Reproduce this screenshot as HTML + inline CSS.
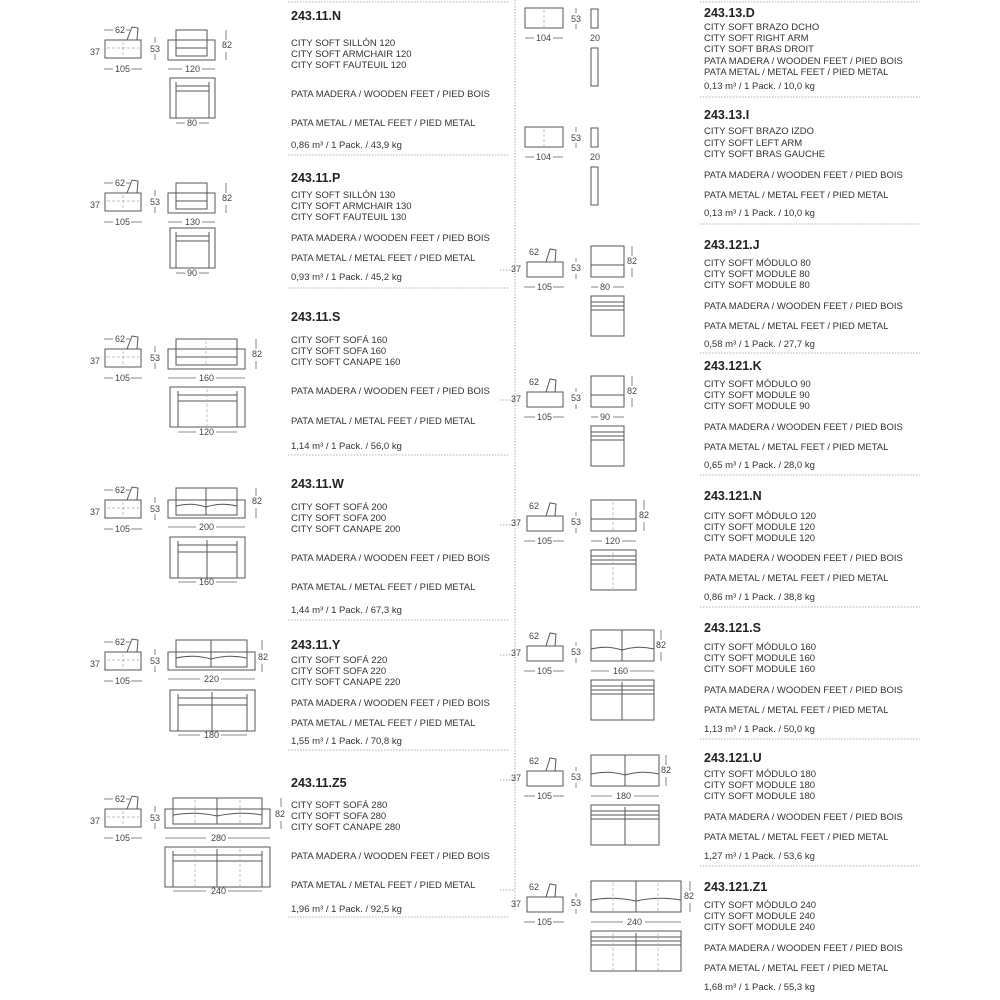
<!DOCTYPE html>
<html><head><meta charset="utf-8"><style>
html,body{margin:0;padding:0;background:#fff;}
svg{display:block}
text{font-family:"Liberation Sans",sans-serif;fill:#333;font-size:9.5px}
.t{font-weight:bold;font-size:12.5px;fill:#222}
.d{font-size:9px;fill:#444}
.s{fill:none;stroke:#555;stroke-width:1}
.l{stroke:#666;stroke-width:0.8}
.dl{stroke:#999;stroke-width:0.8;stroke-dasharray:1.5 1.5}
.ds{stroke:#aaa;stroke-width:0.7;stroke-dasharray:3 2;fill:none}
</style></head><body>
<svg width="1000" height="1000" viewBox="0 0 1000 1000">
<defs>
<g id="side">
<rect class="s" x="105" y="40" width="36" height="18"/>
<path class="s" d="M127 40 L132 27 L138 28 L137 40"/>
<line class="ds" x1="123" y1="42" x2="123" y2="56"/>
<line class="ds" x1="107" y1="48" x2="139" y2="48"/>
<text class="d" x="115" y="33">62</text>
<line class="l" x1="104" y1="30" x2="113" y2="30"/><line class="l" x1="126" y1="30" x2="130" y2="30"/>
<text class="d" x="90" y="55">37</text>
<text class="d" x="115" y="72">105</text>
<line class="l" x1="104" y1="69" x2="113" y2="69"/><line class="l" x1="131" y1="69" x2="142" y2="69"/>
<text class="d" x="150" y="52">53</text>
<line class="l" x1="155" y1="37" x2="155" y2="43"/><line class="l" x1="155" y1="54" x2="155" y2="60"/>
</g>
<g id="rside">
<rect class="s" x="527" y="262" width="36" height="15"/>
<path class="s" d="M546 262 L550 249 L556 250 L555 262"/>
<text class="d" x="529" y="255">62</text>
<text class="d" x="511" y="272">37</text>
<text class="d" x="537" y="290">105</text>
<line class="l" x1="524" y1="287" x2="535" y2="287"/><line class="l" x1="553" y1="287" x2="564" y2="287"/>
<text class="d" x="571" y="271">53</text>
<line class="l" x1="576" y1="258" x2="576" y2="262"/><line class="l" x1="576" y1="274" x2="576" y2="279"/>
</g>
</defs>

<!-- separators -->
<line class="dl" x1="515" y1="0" x2="515" y2="910"/>
<g class="dl">
<line x1="288" y1="2" x2="510" y2="2"/><line x1="288" y1="155" x2="510" y2="155"/>
<line x1="288" y1="288" x2="510" y2="288"/><line x1="288" y1="455" x2="510" y2="455"/>
<line x1="288" y1="620" x2="510" y2="620"/><line x1="288" y1="750" x2="510" y2="750"/>
<line x1="288" y1="917" x2="510" y2="917"/>
<line x1="700" y1="2" x2="920" y2="2"/><line x1="700" y1="97" x2="920" y2="97"/>
<line x1="700" y1="224" x2="920" y2="224"/><line x1="700" y1="353" x2="920" y2="353"/>
<line x1="700" y1="475" x2="920" y2="475"/><line x1="700" y1="607" x2="920" y2="607"/>
<line x1="700" y1="739" x2="920" y2="739"/><line x1="700" y1="866" x2="920" y2="866"/>
<line x1="500" y1="890" x2="515" y2="890"/>
</g>
<line class="dl" x1="500" y1="270" x2="515" y2="270"/>
<line class="dl" x1="500" y1="400" x2="515" y2="400"/>
<line class="dl" x1="500" y1="525" x2="515" y2="525"/>
<line class="dl" x1="500" y1="655" x2="515" y2="655"/>
<line class="dl" x1="500" y1="780" x2="515" y2="780"/>

<!-- LEFT DRAWINGS -->
<!-- N -->
<use href="#side"/>
<g>
<rect class="s" x="168" y="40" width="47" height="20"/><rect class="s" x="176" y="30" width="31" height="26"/>
<line class="s" x1="176" y1="48" x2="207" y2="48"/>
<text class="d" x="222" y="48">82</text><line class="l" x1="226" y1="30" x2="226" y2="40"/><line class="l" x1="226" y1="52" x2="226" y2="60"/>
<text class="d" x="185" y="72">120</text><line class="l" x1="168" y1="69" x2="182" y2="69"/><line class="l" x1="202" y1="69" x2="215" y2="69"/>
<rect class="s" x="170" y="78" width="45" height="40"/><line class="s" x1="176" y1="86" x2="209" y2="86"/><line class="s" x1="176" y1="91" x2="209" y2="91"/>
<line class="s" x1="176" y1="82" x2="176" y2="118"/><line class="s" x1="209" y1="82" x2="209" y2="118"/>
<text class="d" x="187" y="126">80</text><line class="l" x1="176" y1="123" x2="185" y2="123"/><line class="l" x1="199" y1="123" x2="209" y2="123"/>
</g>
<!-- P -->
<g transform="translate(0,153)">
<use href="#side"/>
<rect class="s" x="168" y="40" width="47" height="20"/><rect class="s" x="176" y="30" width="31" height="26"/>
<line class="s" x1="176" y1="48" x2="207" y2="48"/>
<text class="d" x="222" y="48">82</text><line class="l" x1="226" y1="30" x2="226" y2="40"/><line class="l" x1="226" y1="52" x2="226" y2="60"/>
<text class="d" x="185" y="72">130</text><line class="l" x1="168" y1="69" x2="182" y2="69"/><line class="l" x1="202" y1="69" x2="215" y2="69"/>
<rect class="s" x="170" y="75" width="45" height="40"/><line class="s" x1="176" y1="83" x2="209" y2="83"/><line class="s" x1="176" y1="88" x2="209" y2="88"/>
<line class="s" x1="176" y1="79" x2="176" y2="115"/><line class="s" x1="209" y1="79" x2="209" y2="115"/>
<text class="d" x="187" y="123">90</text><line class="l" x1="176" y1="120" x2="185" y2="120"/><line class="l" x1="199" y1="120" x2="209" y2="120"/>
</g>
<!-- S -->
<g transform="translate(0,309)">
<use href="#side"/>
<rect class="s" x="168" y="40" width="77" height="20"/><rect class="s" x="176" y="30" width="61" height="26"/>
<line class="s" x1="176" y1="48" x2="237" y2="48"/><line class="ds" x1="206" y1="32" x2="206" y2="56"/>
<text class="d" x="252" y="48">82</text><line class="l" x1="256" y1="30" x2="256" y2="40"/><line class="l" x1="256" y1="52" x2="256" y2="60"/>
<text class="d" x="199" y="72">160</text><line class="l" x1="168" y1="69" x2="196" y2="69"/><line class="l" x1="216" y1="69" x2="245" y2="69"/>
<rect class="s" x="170" y="78" width="75" height="40"/><line class="s" x1="178" y1="86" x2="237" y2="86"/><line class="s" x1="178" y1="92" x2="237" y2="92"/>
<line class="s" x1="178" y1="82" x2="178" y2="118"/><line class="s" x1="237" y1="82" x2="237" y2="118"/><line class="ds" x1="207" y1="80" x2="207" y2="118"/>
<text class="d" x="199" y="126">120</text><line class="l" x1="178" y1="123" x2="196" y2="123"/><line class="l" x1="216" y1="123" x2="237" y2="123"/>
</g>
<!-- W -->
<g transform="translate(0,460)">
<use href="#side"/>
<rect class="s" x="168" y="40" width="77" height="18"/><rect class="s" x="176" y="28" width="61" height="27"/>
<path class="s" d="M176 46 Q191 42 206 47 Q221 42 237 46"/><line class="s" x1="206" y1="28" x2="206" y2="55"/>
<text class="d" x="252" y="44">82</text><line class="l" x1="256" y1="28" x2="256" y2="36"/><line class="l" x1="256" y1="48" x2="256" y2="58"/>
<text class="d" x="199" y="70">200</text><line class="l" x1="168" y1="67" x2="196" y2="67"/><line class="l" x1="216" y1="67" x2="245" y2="67"/>
<rect class="s" x="170" y="77" width="75" height="41"/><line class="s" x1="178" y1="85" x2="237" y2="85"/><line class="s" x1="178" y1="92" x2="237" y2="92"/>
<line class="s" x1="178" y1="81" x2="178" y2="118"/><line class="s" x1="237" y1="81" x2="237" y2="118"/><line class="s" x1="207" y1="80" x2="207" y2="118"/>
<text class="d" x="199" y="125">160</text><line class="l" x1="178" y1="122" x2="196" y2="122"/><line class="l" x1="216" y1="122" x2="237" y2="122"/>
</g>
<!-- Y -->
<g transform="translate(0,612)">
<use href="#side"/>
<rect class="s" x="168" y="40" width="87" height="18"/><rect class="s" x="176" y="28" width="71" height="27"/>
<path class="s" d="M176 46 Q194 42 211 47 Q229 42 247 46"/><line class="s" x1="211" y1="28" x2="211" y2="55"/>
<text class="d" x="258" y="48">82</text><line class="l" x1="262" y1="28" x2="262" y2="38"/><line class="l" x1="262" y1="52" x2="262" y2="60"/>
<text class="d" x="204" y="70">220</text><line class="l" x1="168" y1="67" x2="200" y2="67"/><line class="l" x1="221" y1="67" x2="255" y2="67"/>
<rect class="s" x="170" y="78" width="85" height="41"/><line class="s" x1="178" y1="86" x2="247" y2="86"/><line class="s" x1="178" y1="93" x2="247" y2="93"/>
<line class="s" x1="178" y1="82" x2="178" y2="119"/><line class="s" x1="247" y1="82" x2="247" y2="119"/><line class="s" x1="212" y1="80" x2="212" y2="119"/>
<text class="d" x="204" y="126">180</text><line class="l" x1="178" y1="123" x2="200" y2="123"/><line class="l" x1="221" y1="123" x2="247" y2="123"/>
</g>
<!-- Z5 -->
<g transform="translate(0,769)">
<use href="#side"/>
<rect class="s" x="165" y="40" width="105" height="19"/><rect class="s" x="173" y="29" width="89" height="26"/>
<path class="s" d="M173 46 Q195 42 217 47 Q240 42 262 46"/><line class="s" x1="217" y1="29" x2="217" y2="55"/>
<line class="ds" x1="195" y1="31" x2="195" y2="54"/><line class="ds" x1="240" y1="31" x2="240" y2="54"/>
<text class="d" x="275" y="48">82</text><line class="l" x1="281" y1="29" x2="281" y2="38"/><line class="l" x1="281" y1="52" x2="281" y2="60"/>
<text class="d" x="211" y="72">280</text><line class="l" x1="165" y1="69" x2="206" y2="69"/><line class="l" x1="228" y1="69" x2="270" y2="69"/>
<rect class="s" x="165" y="78" width="105" height="40"/><line class="s" x1="173" y1="86" x2="262" y2="86"/><line class="s" x1="173" y1="92" x2="262" y2="92"/>
<line class="s" x1="173" y1="82" x2="173" y2="118"/><line class="s" x1="262" y1="82" x2="262" y2="118"/><line class="s" x1="217" y1="80" x2="217" y2="118"/>
<line class="ds" x1="195" y1="80" x2="195" y2="118"/><line class="ds" x1="240" y1="80" x2="240" y2="118"/>
<text class="d" x="211" y="125">240</text><line class="l" x1="173" y1="122" x2="206" y2="122"/><line class="l" x1="228" y1="122" x2="262" y2="122"/>
</g>

<!-- RIGHT DRAWINGS -->
<!-- arms -->
<g>
<rect class="s" x="525" y="8" width="38" height="20"/><line class="ds" x1="544" y1="10" x2="544" y2="27"/>
<text class="d" x="536" y="41">104</text><line class="l" x1="525" y1="38" x2="534" y2="38"/><line class="l" x1="553" y1="38" x2="563" y2="38"/>
<text class="d" x="571" y="22">53</text><line class="l" x1="576" y1="8" x2="576" y2="13"/><line class="l" x1="576" y1="24" x2="576" y2="29"/>
<rect class="s" x="591" y="9" width="7" height="19"/><text class="d" x="590" y="41">20</text>
<rect class="s" x="591" y="48" width="7" height="38"/>
</g>
<g transform="translate(0,119)">
<rect class="s" x="525" y="8" width="38" height="20"/><line class="ds" x1="544" y1="10" x2="544" y2="27"/>
<text class="d" x="536" y="41">104</text><line class="l" x1="525" y1="38" x2="534" y2="38"/><line class="l" x1="553" y1="38" x2="563" y2="38"/>
<text class="d" x="571" y="22">53</text><line class="l" x1="576" y1="8" x2="576" y2="13"/><line class="l" x1="576" y1="24" x2="576" y2="29"/>
<rect class="s" x="591" y="9" width="7" height="19"/><text class="d" x="590" y="41">20</text>
<rect class="s" x="591" y="48" width="7" height="38"/>
</g>
<!-- J -->
<use href="#rside"/>
<rect class="s" x="591" y="246" width="33" height="31"/><line class="s" x1="591" y1="265" x2="624" y2="265"/>
<text class="d" x="627" y="264">82</text><line class="l" x1="632" y1="246" x2="632" y2="256"/><line class="l" x1="632" y1="268" x2="632" y2="277"/>
<text class="d" x="600" y="290">80</text><line class="l" x1="591" y1="287" x2="598" y2="287"/><line class="l" x1="613" y1="287" x2="624" y2="287"/>
<rect class="s" x="591" y="296" width="33" height="40"/><line class="s" x1="591" y1="302" x2="624" y2="302"/><line class="s" x1="591" y1="306" x2="624" y2="306"/><line class="s" x1="591" y1="310" x2="624" y2="310"/>
<!-- K -->
<g transform="translate(0,130)">
<use href="#rside"/>
<rect class="s" x="591" y="246" width="33" height="31"/><line class="s" x1="591" y1="265" x2="624" y2="265"/>
<text class="d" x="627" y="264">82</text><line class="l" x1="632" y1="246" x2="632" y2="256"/><line class="l" x1="632" y1="268" x2="632" y2="277"/>
<text class="d" x="600" y="290">90</text><line class="l" x1="591" y1="287" x2="598" y2="287"/><line class="l" x1="613" y1="287" x2="624" y2="287"/>
<rect class="s" x="591" y="296" width="33" height="40"/><line class="s" x1="591" y1="302" x2="624" y2="302"/><line class="s" x1="591" y1="306" x2="624" y2="306"/><line class="s" x1="591" y1="310" x2="624" y2="310"/>
</g>
<!-- N -->
<g transform="translate(0,254)">
<use href="#rside"/>
<rect class="s" x="591" y="246" width="45" height="31"/><line class="s" x1="591" y1="265" x2="636" y2="265"/><line class="ds" x1="613" y1="248" x2="613" y2="276"/>
<text class="d" x="639" y="264">82</text><line class="l" x1="644" y1="246" x2="644" y2="256"/><line class="l" x1="644" y1="268" x2="644" y2="277"/>
<text class="d" x="605" y="290">120</text><line class="l" x1="591" y1="287" x2="602" y2="287"/><line class="l" x1="622" y1="287" x2="636" y2="287"/>
<rect class="s" x="591" y="296" width="45" height="40"/><line class="s" x1="591" y1="302" x2="636" y2="302"/><line class="s" x1="591" y1="306" x2="636" y2="306"/><line class="s" x1="591" y1="310" x2="636" y2="310"/><line class="ds" x1="613" y1="298" x2="613" y2="336"/>
</g>
<!-- S -->
<g transform="translate(0,384)">
<use href="#rside"/>
<rect class="s" x="591" y="246" width="63" height="31"/><path class="s" d="M591 265 Q607 261 622 266 Q638 261 654 265"/><line class="s" x1="622" y1="246" x2="622" y2="277"/>
<text class="d" x="656" y="264">82</text><line class="l" x1="661" y1="246" x2="661" y2="256"/><line class="l" x1="661" y1="268" x2="661" y2="277"/>
<text class="d" x="613" y="290">160</text><line class="l" x1="591" y1="287" x2="609" y2="287"/><line class="l" x1="630" y1="287" x2="654" y2="287"/>
<rect class="s" x="591" y="296" width="63" height="40"/><line class="s" x1="591" y1="302" x2="654" y2="302"/><line class="s" x1="591" y1="306" x2="654" y2="306"/><line class="s" x1="591" y1="310" x2="654" y2="310"/><line class="s" x1="622" y1="298" x2="622" y2="336"/>
</g>
<!-- U -->
<g transform="translate(0,509)">
<use href="#rside"/>
<rect class="s" x="591" y="246" width="68" height="31"/><path class="s" d="M591 265 Q608 261 625 266 Q642 261 659 265"/><line class="s" x1="625" y1="246" x2="625" y2="277"/>
<text class="d" x="661" y="264">82</text><line class="l" x1="666" y1="246" x2="666" y2="256"/><line class="l" x1="666" y1="268" x2="666" y2="277"/>
<text class="d" x="616" y="290">180</text><line class="l" x1="591" y1="287" x2="612" y2="287"/><line class="l" x1="634" y1="287" x2="659" y2="287"/>
<rect class="s" x="591" y="296" width="68" height="40"/><line class="s" x1="591" y1="302" x2="659" y2="302"/><line class="s" x1="591" y1="306" x2="659" y2="306"/><line class="s" x1="591" y1="310" x2="659" y2="310"/><line class="s" x1="625" y1="298" x2="625" y2="336"/>
</g>
<!-- Z1 -->
<g transform="translate(0,635)">
<use href="#rside"/>
<rect class="s" x="591" y="246" width="90" height="31"/><path class="s" d="M591 265 Q613 261 636 266 Q658 261 681 265"/><line class="s" x1="636" y1="246" x2="636" y2="277"/>
<line class="ds" x1="613" y1="248" x2="613" y2="276"/><line class="ds" x1="658" y1="248" x2="658" y2="276"/>
<text class="d" x="684" y="264">82</text><line class="l" x1="690" y1="246" x2="690" y2="256"/><line class="l" x1="690" y1="268" x2="690" y2="277"/>
<text class="d" x="627" y="290">240</text><line class="l" x1="591" y1="287" x2="623" y2="287"/><line class="l" x1="645" y1="287" x2="681" y2="287"/>
<rect class="s" x="591" y="296" width="90" height="40"/><line class="s" x1="591" y1="302" x2="681" y2="302"/><line class="s" x1="591" y1="306" x2="681" y2="306"/><line class="s" x1="591" y1="310" x2="681" y2="310"/><line class="s" x1="636" y1="298" x2="636" y2="336"/>
<line class="ds" x1="613" y1="298" x2="613" y2="336"/><line class="ds" x1="658" y1="298" x2="658" y2="336"/>
</g>

<!-- LEFT TEXT -->
<text class="t" x="291" y="20">243.11.N</text>
<text x="291" y="46">CITY SOFT SILLÓN 120</text><text x="291" y="57">CITY SOFT ARMCHAIR 120</text><text x="291" y="68">CITY SOFT FAUTEUIL 120</text>
<text x="291" y="97">PATA MADERA / WOODEN FEET / PIED BOIS</text><text x="291" y="126">PATA METAL / METAL FEET / PIED METAL</text>
<text x="291" y="148">0,86 m³ / 1 Pack. / 43,9 kg</text>

<text class="t" x="291" y="182">243.11.P</text>
<text x="291" y="198">CITY SOFT SILLÓN 130</text><text x="291" y="209">CITY SOFT ARMCHAIR 130</text><text x="291" y="220">CITY SOFT FAUTEUIL 130</text>
<text x="291" y="241">PATA MADERA / WOODEN FEET / PIED BOIS</text><text x="291" y="261">PATA METAL / METAL FEET / PIED METAL</text>
<text x="291" y="280">0,93 m³ / 1 Pack. / 45,2 kg</text>

<text class="t" x="291" y="321">243.11.S</text>
<text x="291" y="343">CITY SOFT SOFÁ 160</text><text x="291" y="354">CITY SOFT SOFA 160</text><text x="291" y="365">CITY SOFT CANAPE 160</text>
<text x="291" y="394">PATA MADERA / WOODEN FEET / PIED BOIS</text><text x="291" y="424">PATA METAL / METAL FEET / PIED METAL</text>
<text x="291" y="449">1,14 m³ / 1 Pack. / 56,0 kg</text>

<text class="t" x="291" y="488">243.11.W</text>
<text x="291" y="510">CITY SOFT SOFÁ 200</text><text x="291" y="521">CITY SOFT SOFA 200</text><text x="291" y="532">CITY SOFT CANAPE 200</text>
<text x="291" y="561">PATA MADERA / WOODEN FEET / PIED BOIS</text><text x="291" y="590">PATA METAL / METAL FEET / PIED METAL</text>
<text x="291" y="613">1,44 m³ / 1 Pack. / 67,3 kg</text>

<text class="t" x="291" y="649">243.11.Y</text>
<text x="291" y="663">CITY SOFT SOFÁ 220</text><text x="291" y="674">CITY SOFT SOFA 220</text><text x="291" y="685">CITY SOFT CANAPE 220</text>
<text x="291" y="706">PATA MADERA / WOODEN FEET / PIED BOIS</text><text x="291" y="726">PATA METAL / METAL FEET / PIED METAL</text>
<text x="291" y="744">1,55 m³ / 1 Pack. / 70,8 kg</text>

<text class="t" x="291" y="787">243.11.Z5</text>
<text x="291" y="808">CITY SOFT SOFÁ 280</text><text x="291" y="819">CITY SOFT SOFA 280</text><text x="291" y="830">CITY SOFT CANAPE 280</text>
<text x="291" y="859">PATA MADERA / WOODEN FEET / PIED BOIS</text><text x="291" y="888">PATA METAL / METAL FEET / PIED METAL</text>
<text x="291" y="912">1,96 m³ / 1 Pack. / 92,5 kg</text>

<!-- RIGHT TEXT -->
<text class="t" x="704" y="17">243.13.D</text>
<text x="704" y="30">CITY SOFT BRAZO DCHO</text><text x="704" y="41">CITY SOFT RIGHT ARM</text><text x="704" y="52">CITY SOFT BRAS DROIT</text>
<text x="704" y="64">PATA MADERA / WOODEN FEET / PIED BOIS</text><text x="704" y="75">PATA METAL / METAL FEET / PIED METAL</text>
<text x="704" y="89">0,13 m³ / 1 Pack. / 10,0 kg</text>

<text class="t" x="704" y="119">243.13.I</text>
<text x="704" y="134">CITY SOFT BRAZO IZDO</text><text x="704" y="146">CITY SOFT LEFT ARM</text><text x="704" y="157">CITY SOFT BRAS GAUCHE</text>
<text x="704" y="178">PATA MADERA / WOODEN FEET / PIED BOIS</text><text x="704" y="198">PATA METAL / METAL FEET / PIED METAL</text>
<text x="704" y="216">0,13 m³ / 1 Pack. / 10,0 kg</text>

<text class="t" x="704" y="249">243.121.J</text>
<text x="704" y="266">CITY SOFT MÓDULO 80</text><text x="704" y="277">CITY SOFT MODULE 80</text><text x="704" y="288">CITY SOFT MODULE 80</text>
<text x="704" y="309">PATA MADERA / WOODEN FEET / PIED BOIS</text><text x="704" y="329">PATA METAL / METAL FEET / PIED METAL</text>
<text x="704" y="347">0,58 m³ / 1 Pack. / 27,7 kg</text>

<text class="t" x="704" y="370">243.121.K</text>
<text x="704" y="387">CITY SOFT MÓDULO 90</text><text x="704" y="398">CITY SOFT MODULE 90</text><text x="704" y="409">CITY SOFT MODULE 90</text>
<text x="704" y="430">PATA MADERA / WOODEN FEET / PIED BOIS</text><text x="704" y="450">PATA METAL / METAL FEET / PIED METAL</text>
<text x="704" y="468">0,65 m³ / 1 Pack. / 28,0 kg</text>

<text class="t" x="704" y="500">243.121.N</text>
<text x="704" y="519">CITY SOFT MÓDULO 120</text><text x="704" y="530">CITY SOFT MODULE 120</text><text x="704" y="541">CITY SOFT MODULE 120</text>
<text x="704" y="561">PATA MADERA / WOODEN FEET / PIED BOIS</text><text x="704" y="581">PATA METAL / METAL FEET / PIED METAL</text>
<text x="704" y="600">0,86 m³ / 1 Pack. / 38,8 kg</text>

<text class="t" x="704" y="632">243.121.S</text>
<text x="704" y="650">CITY SOFT MÓDULO 160</text><text x="704" y="661">CITY SOFT MODULE 160</text><text x="704" y="672">CITY SOFT MODULE 160</text>
<text x="704" y="693">PATA MADERA / WOODEN FEET / PIED BOIS</text><text x="704" y="713">PATA METAL / METAL FEET / PIED METAL</text>
<text x="704" y="732">1,13 m³ / 1 Pack. / 50,0 kg</text>

<text class="t" x="704" y="762">243.121.U</text>
<text x="704" y="777">CITY SOFT MÓDULO 180</text><text x="704" y="788">CITY SOFT MODULE 180</text><text x="704" y="799">CITY SOFT MODULE 180</text>
<text x="704" y="820">PATA MADERA / WOODEN FEET / PIED BOIS</text><text x="704" y="840">PATA METAL / METAL FEET / PIED METAL</text>
<text x="704" y="859">1,27 m³ / 1 Pack. / 53,6 kg</text>

<text class="t" x="704" y="891">243.121.Z1</text>
<text x="704" y="908">CITY SOFT MÓDULO 240</text><text x="704" y="919">CITY SOFT MODULE 240</text><text x="704" y="930">CITY SOFT MODULE 240</text>
<text x="704" y="951">PATA MADERA / WOODEN FEET / PIED BOIS</text><text x="704" y="971">PATA METAL / METAL FEET / PIED METAL</text>
<text x="704" y="990">1,68 m³ / 1 Pack. / 55,3 kg</text>
</svg>
</body></html>
